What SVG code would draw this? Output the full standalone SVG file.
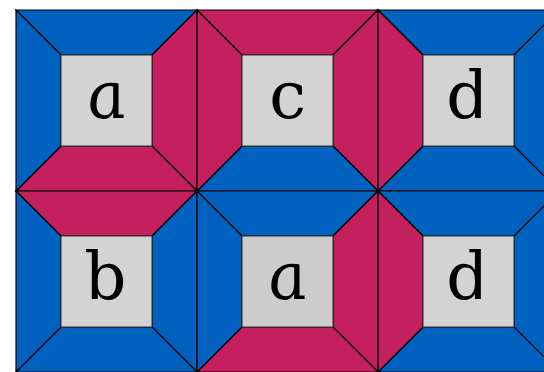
<svg xmlns="http://www.w3.org/2000/svg" width="544" height="372" viewBox="0 0 544 372">
<style>
.b{fill:#0062be}
.r{fill:#c4205e}
polygon{stroke:#000;stroke-width:1.2;stroke-linejoin:miter}
.sq{fill:#d3d3d3;stroke:#333;stroke-width:1}
.sq2{fill:#cccccc;stroke:#333;stroke-width:1}
.t{font-family:"DejaVu Serif",serif;font-style:italic;font-size:66px;text-anchor:middle;fill:#000}
</style>
<defs>
<polygon id="T" points="0,0 181,0 136,45 45,45"/>
<polygon id="R" points="181,0 181,181 136,136 136,45"/>
<polygon id="B" points="181,181 0,181 45,136 136,136"/>
<polygon id="L" points="0,181 0,0 45,45 45,136"/>
</defs>
<rect width="544" height="372" fill="#fff"/>
<g id="cell-a1" transform="translate(16,10)">
<use href="#T" class="b"/><use href="#R" class="r"/><use href="#B" class="r"/><use href="#L" class="b"/>
<rect class="sq" x="45" y="45" width="91" height="91"/>
<text class="t" transform="translate(94,108) skewX(11)">a</text>
</g>
<g id="cell-c" transform="translate(197,10)">
<use href="#T" class="r"/><use href="#R" class="r"/><use href="#B" class="b"/><use href="#L" class="r"/>
<rect class="sq" x="45" y="45" width="91" height="91"/>
<text class="t" transform="translate(94,108) skewX(11)">c</text>
</g>
<g id="cell-d1" transform="translate(378,10)">
<use href="#T" class="b"/><use href="#R" class="b"/><use href="#B" class="b"/><use href="#L" class="r"/>
<rect class="sq" x="45" y="45" width="91" height="91"/>
<text class="t" transform="translate(94,108) skewX(11)">d</text>
</g>
<g id="cell-b" transform="translate(16,191)">
<use href="#T" class="r"/><use href="#R" class="b"/><use href="#B" class="b"/><use href="#L" class="b"/>
<rect class="sq" x="45" y="45" width="91" height="91"/>
<text class="t" transform="translate(94,108) skewX(11)">b</text>
</g>
<g id="cell-a2" transform="translate(197,191)">
<use href="#T" class="b"/><use href="#R" class="r"/><use href="#B" class="r"/><use href="#L" class="b"/>
<rect class="sq2" x="45" y="45" width="91" height="91"/>
<text class="t" transform="translate(94,108) skewX(11)">a</text>
</g>
<g id="cell-d2" transform="translate(378,191)">
<use href="#T" class="b"/><use href="#R" class="b"/><use href="#B" class="b"/><use href="#L" class="r"/>
<rect class="sq" x="45" y="45" width="91" height="91"/>
<text class="t" transform="translate(94,108) skewX(11)">d</text>
</g>
</svg>
